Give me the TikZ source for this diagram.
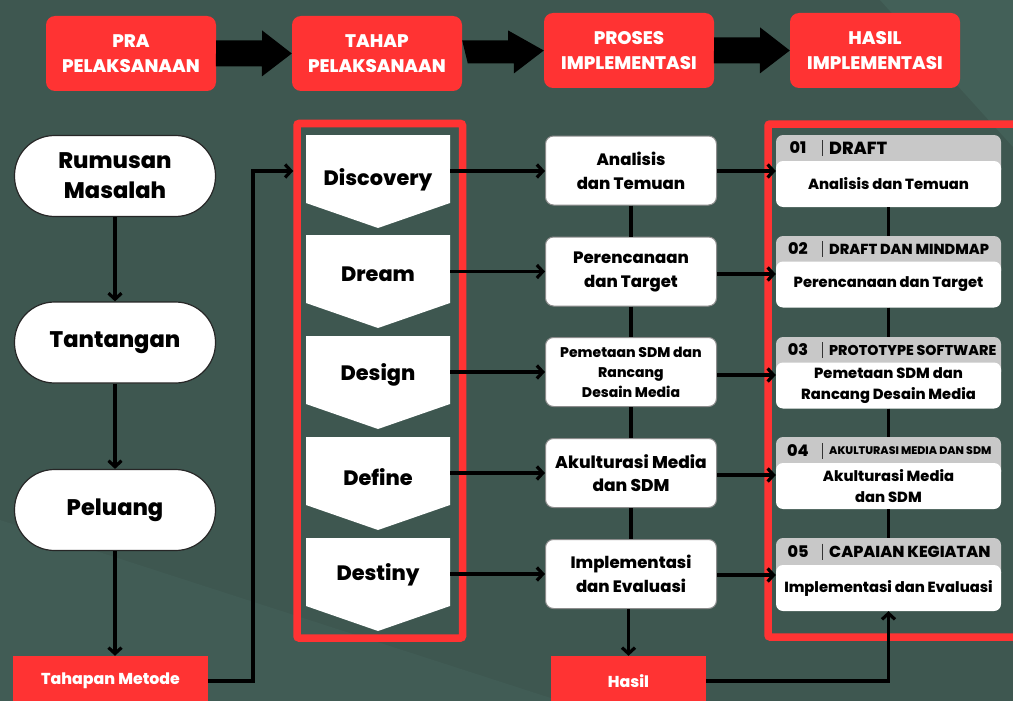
\documentclass[tikz,border=0pt]{standalone}
\usepackage{fontspec}
\setmainfont{Poppins}[BoldFont={Poppins ExtraBold}]
\usetikzlibrary{arrows.meta,calc}
\definecolor{bg}{RGB}{62,87,80}
\definecolor{bgl}{RGB}{67,96,88}
\definecolor{rd}{RGB}{255,51,51}
\definecolor{hdr}{RGB}{200,200,200}
\newcommand{\fz}[2]{\fontsize{#1}{#2}\selectfont}
\begin{document}
\begin{tikzpicture}[x=1pt,y=-1pt,
  conn/.style={line width=3.2pt, -{Straight Barb[length=6pt,width=13pt]}},
  plain/.style={line width=3.2pt},
  headbox/.style={fill=rd, rounded corners=9pt, minimum width=170pt, minimum height=75pt, align=center, text=white, font=\bfseries\fz{18.2}{25}},
  pill/.style={draw=black!85, line width=1.2pt, fill=white, rounded corners=40pt, minimum width=201pt, minimum height=81pt, align=center, font=\bfseries\fz{22.5}{30}},
  redlab/.style={fill=rd, text=white, font=\bfseries\fz{15.8}{18}, inner sep=0pt},
  frame/.style={draw=rd, line width=7.5pt, rounded corners=2pt},
  pent/.style={font=\bfseries\fz{20.8}{25}},
  midbox/.style={draw=black!45, line width=1pt, fill=white, rounded corners=8pt, minimum width=171pt, minimum height=69pt, align=center, inner sep=1pt},
  cardh/.style={fill=hdr, rounded corners=7pt, minimum width=225pt, minimum height=42pt, inner sep=0pt},
  cardb/.style={fill=white, rounded corners=7pt, minimum width=225pt, minimum height=46pt, align=center, inner sep=0pt, font=\bfseries\fz{14.7}{21}},
  num/.style={font=\bfseries\fz{16}{18}, inner sep=0pt},
  ttl/.style={font=\bfseries\fz{14.5}{16}, inner sep=0pt, anchor=west}
]
\useasboundingbox (0,0) rectangle (1013,701);
\fill[bg] (0,0) rectangle (1013,701);
\fill[bgl] (880,0) -- (1013,0) -- (1013,147) -- cycle;
\fill[bgl!60!bg] (0,520) -- (560,701) -- (0,701) -- cycle;

% header
\node[headbox] (h1) at (131,53.5) {PRA\\PELAKSANAAN};
\node[headbox] (h2) at (377,53.5) {TAHAP\\PELAKSANAAN};
\node[headbox] (h3) at (629,50.5) {PROSES\\IMPLEMENTASI};
\node[headbox] (h4) at (875,50.5) {HASIL\\IMPLEMENTASI};
\foreach \a/\b in {h1/h2,h2/h3,h3/h4}{
  \fill (\a.east) ++(0,-13) -- ++(46,0) -- ++(0,-10) -- (\b.west) -- ++(-30,23) -- ++(0,-10) -- ++(-46,0) -- cycle;
}

% left column
\node[pill] (rm) at (115,176) {Rumusan\\Masalah};
\node[pill] (tt) at (115,342.5) {Tantangan};
\node[pill] (pl) at (115,510) {Peluang};
\node[redlab, minimum width=195pt, minimum height=50pt] (tm) at (110.5,681) {Tahapan Metode};
\draw[conn] (rm.south) -- (tt.north);
\draw[conn] (tt.south) -- (pl.north);
\draw[conn] (pl.south) -- (pl.south |- tm.north);

% frames
\node[frame, minimum width=165.5pt, minimum height=514.5pt] (f1) at (379.75,380.75) {};
\node[frame, minimum width=262pt, minimum height=513pt] (f2) at (899,380.5) {};

% pentagons
\foreach \ty in {135, 235, 336, 437, 538}{
  \fill[white] (306,\ty) -- (450,\ty) -- (450,\ty+68) -- (378,\ty+93) -- (306,\ty+68) -- cycle;
}
\node[pent] (p1) at (378,180) {Discovery};
\node[pent] (p2) at (378,274) {Dream};
\node[pent] (p3) at (378,375) {Design};
\node[pent] (p4) at (378,477) {Define};
\node[pent] (p5) at (378,575) {Destiny};
\coordinate (p1r) at (450,171);
\coordinate (p2r) at (450,271.5);
\coordinate (p3r) at (450,372);
\coordinate (p4r) at (450,473);
\coordinate (p5r) at (450,574);

% entry connector
\coordinate (j1) at (253,171);
\draw[conn] (tm.east) -| (j1) -- (j1 -| f1.west);

% middle boxes
\node[midbox, font=\bfseries\fz{16.5}{24}] (m1) at (631,170.5) {Analisis\\dan Temuan};
\node[midbox, font=\bfseries\fz{16.5}{24}] (m2) at (631,271.5) {Perencanaan\\dan Target};
\node[midbox, font=\bfseries\fz{14}{20}] (m3) at (631,372) {Pemetaan SDM dan\\Rancang\\Desain Media};
\node[midbox, font=\bfseries\fz{17}{23}] (m4) at (631,473) {Akulturasi Media\\dan SDM};
\node[midbox, font=\bfseries\fz{16.5}{24}] (m5) at (631,574) {Implementasi\\dan Evaluasi};
\foreach \a/\b in {m1/m2,m2/m3,m3/m4,m4/m5}{ \draw[plain] (\a.south) -- (\b.north); }
\foreach \i in {1,...,5}{ \draw[conn] (p\i r) -- (p\i r -| m\i.west); }

% cards
\foreach \i/\ty in {1/135, 2/236, 3/337, 4/437, 5/538}{
  \node[cardh] (c\i h) at (888.5,\ty+21) {};
}
\node[cardb] (c1b) at (888.5,184) {Analisis dan Temuan};
\node[cardb] (c2b) at (888.5,284.5) {Perencanaan dan Target};
\node[cardb] (c3b) at (888.5,385.5) {Pemetaan SDM dan\\Rancang Desain Media};
\node[cardb] (c4b) at (888.5,486) {Akulturasi Media\\dan SDM};
\node[cardb] (c5b) at (888.5,588) {Implementasi dan Evaluasi};
\foreach \i/\ty/\nm in {1/148/01, 2/249/02, 3/350/03, 4/451/04, 5/551.5/05}{
  \node[num] (n\i) at (798,\ty) {\nm};
  \draw[black!80, line width=0.8pt] (822,\ty-8) -- (822,\ty+8);
}
\node[ttl, font=\bfseries\fz{17.5}{18}] (t1) at (829,148) {DRAFT};
\node[ttl] (t2) at (829,249) {DRAFT DAN MINDMAP};
\node[ttl, font=\bfseries\fz{14.2}{15}] (t3) at (829,350) {PROTOTYPE SOFTWARE};
\node[ttl, font=\bfseries\fz{11}{12}] (t4) at (829,451) {AKULTURASI MEDIA DAN SDM};
\node[ttl, font=\bfseries\fz{15.9}{17}] (t5) at (829,551.5) {CAPAIAN KEGIATAN};
\draw[plain] (c1b.south) -- (c2h.north);
\draw[plain] (c2b.south) -- (c3h.north);
\draw[plain] (c3b.south) -- (c4h.north);
\draw[plain] (c4b.south) -- (c5h.north);
\coordinate (a1) at (0,171);
\coordinate (a2) at (0,274);
\coordinate (a3) at (0,375);
\coordinate (a4) at (0,475);
\coordinate (a5) at (0,575);
\foreach \i in {1,...,5}{ \draw[conn] (m\i.east |- a\i) -- (a\i -| c\i b.west); }

% bottom
\node[redlab, minimum width=155pt, minimum height=50pt] (hs) at (628.5,681) {Hasil};
\draw[conn] (m5.south -| hs.north) -- (hs.north);
\draw[conn] (hs.east) -| (c5b.south);
\end{tikzpicture}
\end{document}
